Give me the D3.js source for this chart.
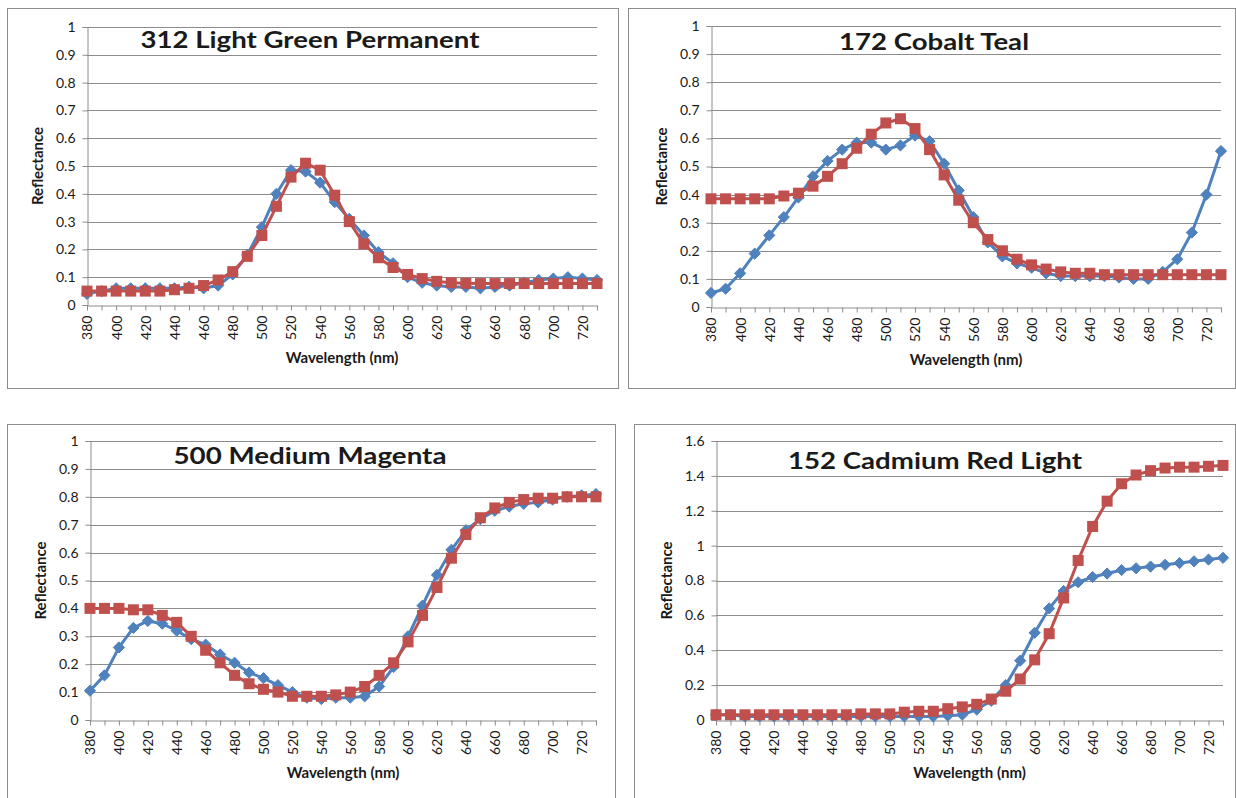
<!DOCTYPE html>
<html>
<head>
<meta charset="utf-8">
<script src="https://cdn.jsdelivr.net/npm/d3@7"></script>
<style>
  body { margin: 0; background: #fff; }
  svg { display: block; }
  text { font-family: Lato, "Open Sans", sans-serif; fill: #1a1a1a; }
</style>
</head>
<body>
<svg id="chart" width="1236" height="798"></svg>
<script>
// wavelengths (nm), one reading every 10 nm
var wavelengths = [380, 390, 400, 410, 420, 430, 440, 450, 460, 470, 480, 490,
  500, 510, 520, 530, 540, 550, 560, 570, 580, 590, 600, 610, 620, 630, 640,
  650, 660, 670, 680, 690, 700, 710, 720, 730];
var xTickLabels = [380, 400, 420, 440, 460, 480, 500, 520, 540, 560, 580, 600,
  620, 640, 660, 680, 700, 720];
var yTicksUnit = [0, 0.1, 0.2, 0.3, 0.4, 0.5, 0.6, 0.7, 0.8, 0.9, 1];
var yTicksWide = [0, 0.2, 0.4, 0.6, 0.8, 1, 1.2, 1.4, 1.6];

var titles = ['312 Light Green Permanent', '172 Cobalt Teal',
  '500 Medium Magenta', '152 Cadmium Red Light'];

// blue = diamonds, red = squares
var greenBlue = [0.04, 0.05, 0.06, 0.06, 0.06, 0.06, 0.06, 0.065, 0.06, 0.07, 0.11, 0.18,
  0.28, 0.40, 0.485, 0.48, 0.44, 0.37, 0.31, 0.25, 0.19, 0.15, 0.10, 0.08, 0.07, 0.065,
  0.065, 0.06, 0.065, 0.07, 0.08, 0.09, 0.095, 0.10, 0.095, 0.09];
var greenRed = [0.05, 0.05, 0.05, 0.05, 0.05, 0.05, 0.055, 0.06, 0.07, 0.09, 0.12, 0.175,
  0.25, 0.355, 0.46, 0.51, 0.485, 0.395, 0.30, 0.22, 0.17, 0.135, 0.11, 0.095, 0.085, 0.08,
  0.078, 0.077, 0.077, 0.077, 0.077, 0.077, 0.077, 0.077, 0.077, 0.077];

var tealBlue = [0.05, 0.065, 0.12, 0.19, 0.255, 0.32, 0.39, 0.465, 0.52, 0.56, 0.585, 0.585,
  0.56, 0.575, 0.61, 0.59, 0.51, 0.415, 0.32, 0.23, 0.18, 0.155, 0.14, 0.12, 0.11, 0.11,
  0.11, 0.11, 0.105, 0.10, 0.10, 0.125, 0.17, 0.265, 0.40, 0.555];
var tealRed = [0.385, 0.385, 0.385, 0.385, 0.385, 0.395, 0.405, 0.43, 0.465, 0.51, 0.565, 0.615,
  0.655, 0.67, 0.635, 0.56, 0.47, 0.38, 0.30, 0.24, 0.20, 0.17, 0.15, 0.135, 0.125, 0.12,
  0.12, 0.115, 0.115, 0.115, 0.115, 0.115, 0.115, 0.115, 0.115, 0.115];

var magentaBlue = [0.105, 0.16, 0.26, 0.33, 0.355, 0.345, 0.32, 0.29, 0.27, 0.235, 0.205, 0.17,
  0.15, 0.125, 0.10, 0.08, 0.075, 0.08, 0.08, 0.085, 0.12, 0.19, 0.30, 0.41, 0.52, 0.61,
  0.68, 0.72, 0.75, 0.765, 0.775, 0.78, 0.79, 0.80, 0.805, 0.81];
var magentaRed = [0.40, 0.40, 0.40, 0.395, 0.395, 0.375, 0.35, 0.30, 0.25, 0.205, 0.16, 0.13,
  0.11, 0.10, 0.085, 0.085, 0.085, 0.09, 0.10, 0.12, 0.16, 0.205, 0.28, 0.375, 0.475, 0.58,
  0.665, 0.725, 0.76, 0.78, 0.79, 0.795, 0.795, 0.80, 0.80, 0.80];

var cadmiumBlue = [0.03, 0.03, 0.02, 0.02, 0.02, 0.02, 0.02, 0.02, 0.02, 0.02, 0.02, 0.02,
  0.02, 0.02, 0.02, 0.02, 0.025, 0.03, 0.06, 0.11, 0.20, 0.34, 0.50, 0.64, 0.74, 0.79,
  0.82, 0.84, 0.86, 0.87, 0.88, 0.89, 0.90, 0.91, 0.92, 0.93];
var cadmiumRed = [0.03, 0.03, 0.03, 0.03, 0.03, 0.03, 0.03, 0.03, 0.03, 0.03, 0.035, 0.035,
  0.035, 0.045, 0.05, 0.05, 0.065, 0.075, 0.09, 0.12, 0.165, 0.235, 0.345, 0.495, 0.70, 0.915,
  1.11, 1.255, 1.355, 1.405, 1.43, 1.445, 1.45, 1.45, 1.455, 1.46];

var BLUE = '#4f81bd', RED = '#c0504d', GRID = '#8c8c8c';

var panels = [
  { title: titles[0], box: [7, 8, 611, 380], plot: [87, 597, 27, 305], ticks: yTicksUnit,
    titleAt: [310, 48, 339], blue: greenBlue, red: greenRed },
  { title: titles[1], box: [628, 8, 607, 380], plot: [711, 1221, 26, 307], ticks: yTicksUnit,
    titleAt: [934, 50, 190], blue: tealBlue, red: tealRed },
  { title: titles[2], box: [7, 424, 608, 380], plot: [90, 596, 441, 720], ticks: yTicksUnit,
    titleAt: [310, 464, 273], blue: magentaBlue, red: magentaRed },
  { title: titles[3], box: [634, 424, 601, 380], plot: [716, 1223, 441, 720], ticks: yTicksWide,
    titleAt: [935, 469, 294], blue: cadmiumBlue, red: cadmiumRed }
];

var svg = d3.select('#chart');

panels.forEach(function (p) {
  var g = svg.append('g');
  var left = p.plot[0], right = p.plot[1], top = p.plot[2], bottom = p.plot[3];

  g.append('rect')
    .attr('x', p.box[0] + 0.5).attr('y', p.box[1] + 0.5)
    .attr('width', p.box[2]).attr('height', p.box[3])
    .attr('fill', '#fff').attr('stroke', '#8c8c8c').attr('stroke-width', 1);

  var x = d3.scaleLinear().domain([380, 730]).range([left, right]);
  var y = d3.scaleLinear().domain([0, d3.max(p.ticks)]).range([bottom, top]);

  // gridlines
  g.append('g').selectAll('line').data(p.ticks.filter(function (t) { return t > 0; }))
    .join('line')
    .attr('x1', left).attr('x2', right)
    .attr('y1', function (d) { return Math.round(y(d)) + 0.5; })
    .attr('y2', function (d) { return Math.round(y(d)) + 0.5; })
    .attr('stroke', GRID).attr('stroke-width', 1);

  // y axis
  var yAxis = d3.axisLeft(y).tickValues(p.ticks).tickSize(5).tickPadding(7)
    .tickFormat(function (d) { return String(d); });
  var ya = g.append('g').attr('transform', 'translate(' + (left + 0.5) + ',0)').call(yAxis);
  ya.select('.domain').attr('stroke', GRID);
  ya.selectAll('.tick line').attr('stroke', GRID);
  ya.selectAll('.tick text').style('font-size', '14px').attr('fill', '#1a1a1a');

  // x axis: tick every 10 nm, label every 20 nm
  var xAxis = d3.axisBottom(x).tickValues(wavelengths).tickSize(5).tickSizeOuter(0)
    .tickFormat(function (d) { return xTickLabels.indexOf(d) >= 0 ? d : ''; });
  var xa = g.append('g').attr('transform', 'translate(0,' + (bottom + 0.5) + ')').call(xAxis);
  xa.select('.domain').attr('stroke', GRID);
  xa.selectAll('.tick line').attr('stroke', GRID);
  xa.selectAll('.tick text')
    .style('font-size', '14px').attr('fill', '#1a1a1a')
    .attr('text-anchor', 'end')
    .attr('transform', 'rotate(-90)')
    .attr('x', -10).attr('y', 0).attr('dy', '0.35em');

  // axis titles
  g.append('text')
    .attr('x', (left + right) / 2).attr('y', bottom + 58)
    .attr('text-anchor', 'middle')
    .style('font-size', '15px').style('font-weight', 'bold')
    .text('Wavelength (nm)');
  g.append('text')
    .attr('transform', 'translate(' + (left - 44) + ',' + ((top + bottom) / 2) + ') rotate(-90)')
    .attr('text-anchor', 'middle')
    .style('font-size', '15px').style('font-weight', 'bold')
    .text('Reflectance');

  var line = d3.line()
    .x(function (d, i) { return x(wavelengths[i]); })
    .y(function (d) { return y(d); });

  // blue series with diamonds
  g.append('path').datum(p.blue)
    .attr('d', line).attr('fill', 'none')
    .attr('stroke', BLUE).attr('stroke-width', 3).attr('stroke-linejoin', 'round');
  g.append('g').selectAll('path').data(p.blue).join('path')
    .attr('d', d3.symbol().type(d3.symbolDiamond2).size(80))
    .attr('transform', function (d, i) {
      return 'translate(' + x(wavelengths[i]) + ',' + y(d) + ')';
    })
    .attr('fill', BLUE).attr('stroke', BLUE).attr('stroke-width', 1);

  // red series with squares
  g.append('path').datum(p.red)
    .attr('d', line).attr('fill', 'none')
    .attr('stroke', RED).attr('stroke-width', 3).attr('stroke-linejoin', 'round');
  g.append('g').selectAll('rect').data(p.red).join('rect')
    .attr('x', function (d, i) { return x(wavelengths[i]) - 5.5; })
    .attr('y', function (d) { return y(d) - 5.5; })
    .attr('width', 11).attr('height', 11)
    .attr('fill', RED);

  // title
  g.append('text')
    .attr('x', p.titleAt[0]).attr('y', p.titleAt[1])
    .attr('text-anchor', 'middle')
    .attr('textLength', p.titleAt[2]).attr('lengthAdjust', 'spacingAndGlyphs')
    .style('font-size', '23px').style('font-weight', 'bold')
    .attr('fill', '#000')
    .text(p.title);
});
</script>
</body>
</html>
